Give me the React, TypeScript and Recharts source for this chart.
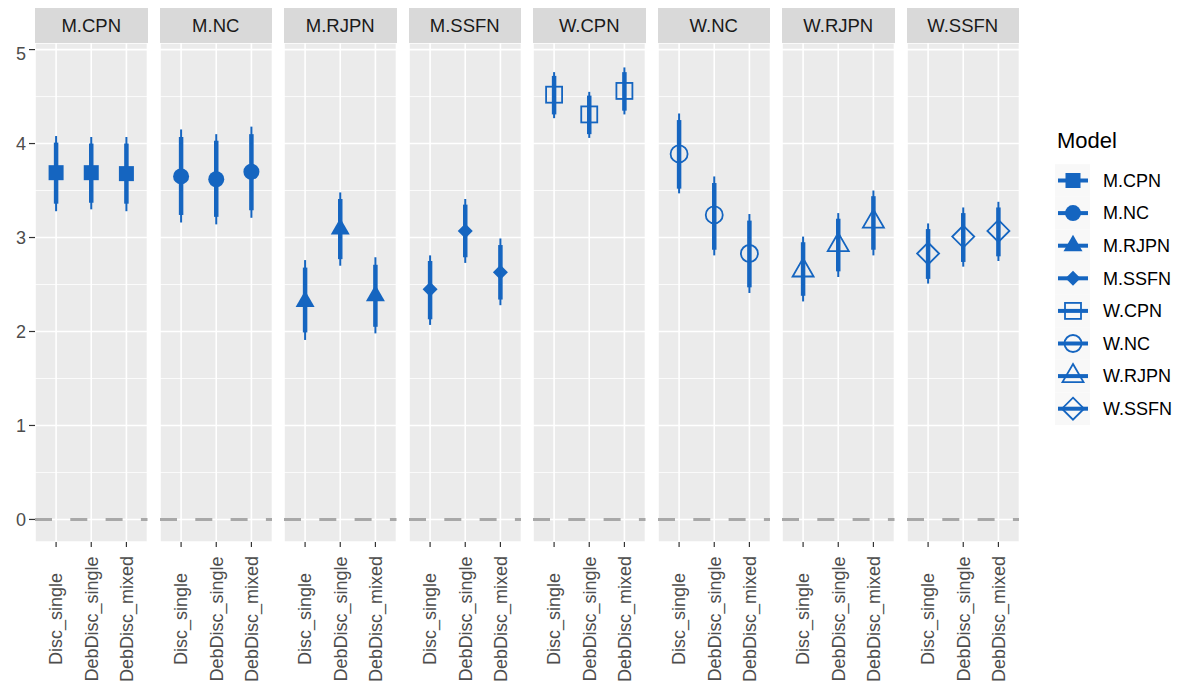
import { ComposedChart, Scatter, ErrorBar, XAxis, YAxis, CartesianGrid, ReferenceLine } from 'recharts'

const models = ['M.CPN', 'M.NC', 'M.RJPN', 'M.SSFN', 'W.CPN', 'W.NC', 'W.RJPN', 'W.SSFN']
const methods = ['Disc_single', 'DebDisc_single', 'DebDisc_mixed']
const markers = ['square', 'circle', 'triangle', 'diamond', 'square', 'circle', 'triangle', 'diamond']
const yTicks = [0, 1, 2, 3, 4, 5]
const yMinor = [0.5, 1.5, 2.5, 3.5, 4.5]

// one row per model, columns in method order
const estimate = [
  [3.69, 3.69, 3.68],
  [3.65, 3.62, 3.7],
  [2.32, 3.09, 2.38],
  [2.45, 3.07, 2.63],
  [4.52, 4.31, 4.56],
  [3.89, 3.24, 2.83],
  [2.65, 2.92, 3.17],
  [2.83, 3.01, 3.07],
]
const lower95 = [
  [3.28, 3.3, 3.28],
  [3.16, 3.14, 3.21],
  [1.91, 2.7, 1.98],
  [2.07, 2.73, 2.28],
  [4.27, 4.06, 4.31],
  [3.47, 2.81, 2.41],
  [2.32, 2.58, 2.81],
  [2.51, 2.69, 2.75],
]
const upper95 = [
  [4.08, 4.07, 4.07],
  [4.15, 4.1, 4.18],
  [2.76, 3.48, 2.79],
  [2.81, 3.41, 2.99],
  [4.76, 4.55, 4.81],
  [4.32, 3.65, 3.25],
  [3.01, 3.26, 3.5],
  [3.15, 3.32, 3.38],
]
const lower80 = [
  [3.36, 3.37, 3.36],
  [3.24, 3.22, 3.29],
  [1.99, 2.77, 2.05],
  [2.13, 2.79, 2.34],
  [4.31, 4.1, 4.35],
  [3.52, 2.87, 2.47],
  [2.38, 2.64, 2.87],
  [2.56, 2.74, 2.8],
]
const upper80 = [
  [4.01, 4.0, 4.0],
  [4.07, 4.03, 4.1],
  [2.68, 3.41, 2.71],
  [2.75, 3.35, 2.92],
  [4.72, 4.51, 4.76],
  [4.25, 3.58, 3.18],
  [2.95, 3.2, 3.44],
  [3.09, 3.26, 3.32],
]

const BLUE = '#1565C0'
const FONT = '"Liberation Sans", Arial, Helvetica, sans-serif'
const PANEL_LEFT = 35
const PANEL_STEP = 124.5
const PANEL_W = 112.5
const PANEL_TOP = 43
const PANEL_H = 499
const AXIS_W = 35

function Marker({ kind, open, cx, cy }: { kind: string; open: boolean; cx: number; cy: number }) {
  const paint = open
    ? { fill: 'none', stroke: BLUE, strokeWidth: 1.8 }
    : { fill: BLUE, stroke: 'none' }
  if (kind === 'square') {
    const s = open ? 16 : 15
    return <rect x={cx - s / 2} y={cy - s / 2} width={s} height={s} {...paint} />
  }
  if (kind === 'circle') {
    return <circle cx={cx} cy={cy} r={open ? 8.5 : 8} {...paint} />
  }
  if (kind === 'triangle') {
    const w = open ? 21 : 19
    const h = w * 0.866
    const pts = `${cx},${cy - (2 * h) / 3} ${cx + w / 2},${cy + h / 3} ${cx - w / 2},${cy + h / 3}`
    return <polygon points={pts} {...paint} />
  }
  const d = open ? 11 : 7.5
  return <polygon points={`${cx},${cy - d} ${cx + d},${cy} ${cx},${cy + d} ${cx - d},${cy}`} {...paint} />
}

function MethodTick({ x, payload }: any) {
  return (
    <text
      transform={`translate(${x},${PANEL_H + 77}) rotate(-90)`}
      textAnchor="middle"
      dy="0.35em"
      fontSize={18}
      fontFamily={FONT}
      fill="#4D4D4D"
    >
      {methods[payload.value - 1]}
    </text>
  )
}

function Facet({ idx }: { idx: number }) {
  const first = idx === 0
  const open = models[idx].startsWith('W.')
  const data = methods.map((m, j) => ({
    x: j + 1,
    method: m,
    y: estimate[idx][j],
    thin: [estimate[idx][j] - lower95[idx][j], upper95[idx][j] - estimate[idx][j]],
    thick: [estimate[idx][j] - lower80[idx][j], upper80[idx][j] - estimate[idx][j]],
  }))
  const left = PANEL_LEFT + idx * PANEL_STEP
  return (
    <>
      <div
        style={{
          position: 'absolute', left, top: 8, width: PANEL_W, height: 35,
          background: '#D9D9D9', color: '#1A1A1A', fontSize: 18.5, lineHeight: '35px',
          textAlign: 'center', fontFamily: FONT,
        }}
      >
        {models[idx]}
      </div>
      <div style={{ position: 'absolute', left: left - (first ? AXIS_W : 0), top: PANEL_TOP }}>
        <ComposedChart
          width={PANEL_W + (first ? AXIS_W : 0)}
          height={PANEL_H + 140}
          data={data}
          margin={{ top: 0, right: 0, bottom: 0, left: 0 }}
        >
          <CartesianGrid fill="#EBEBEB" fillOpacity={1} stroke="#FFFFFF" strokeWidth={1.6} />
          <CartesianGrid horizontalValues={yMinor} vertical={false} stroke="#FFFFFF" strokeWidth={0.8} />
          <XAxis
            type="number"
            dataKey="x"
            domain={[0.4, 3.6]}
            ticks={[1, 2, 3]}
            allowDataOverflow
            axisLine={false}
            tickLine={{ stroke: '#333333', strokeWidth: 1.2 }}
            tickSize={5}
            height={140}
            interval={0}
            tick={<MethodTick />}
          />
          <YAxis
            type="number"
            domain={[-0.24, 5.07]}
            ticks={yTicks}
            allowDataOverflow
            hide={!first}
            width={AXIS_W}
            axisLine={false}
            tickLine={{ stroke: '#333333', strokeWidth: 1.2 }}
            tickSize={6}
            tickMargin={3}
            tick={{ fill: '#4D4D4D', fontSize: 18, fontFamily: FONT }}
          />
          <ReferenceLine y={0} stroke="#A8A8A8" strokeWidth={3} strokeDasharray="17 18.3" />
          <Scatter
            dataKey="y"
            isAnimationActive={false}
            shape={(p: any) => <Marker kind={markers[idx]} open={open} cx={p.cx} cy={p.cy} />}
          >
            <ErrorBar dataKey="thin" direction="y" width={0} stroke={BLUE} strokeWidth={2} isAnimationActive={false} />
            <ErrorBar dataKey="thick" direction="y" width={0} stroke={BLUE} strokeWidth={4.5} isAnimationActive={false} />
          </Scatter>
        </ComposedChart>
      </div>
    </>
  )
}

function ModelLegend() {
  const top = 180.5
  const step = 32.6
  return (
    <svg width={140} height={320} style={{ position: 'absolute', left: 1045, top: 115 }}>
      <text x={12} y={25} dy="0.35em" fontSize={22} fontFamily={FONT} fill="#000">Model</text>
      {models.map((m, i) => {
        const cy = top + i * step - 115
        return (
          <g key={m}>
            <rect x={10} y={cy - step / 2} width={35} height={step} fill="#F8F8F8" />
            <line x1={13} x2={43} y1={cy} y2={cy} stroke={BLUE} strokeWidth={4} />
            <Marker kind={markers[i]} open={m.startsWith('W.')} cx={28} cy={cy} />
            <text x={58} y={cy} dy="0.35em" fontSize={18} fontFamily={FONT} fill="#000">{m}</text>
          </g>
        )
      })}
    </svg>
  )
}

export default function App() {
  return (
    <div style={{ position: 'absolute', left: 0, top: 0, width: 1185, height: 689, background: '#FFFFFF', fontFamily: FONT }}>
      {models.map((m, i) => (
        <Facet key={m} idx={i} />
      ))}
      <ModelLegend />
    </div>
  )
}
